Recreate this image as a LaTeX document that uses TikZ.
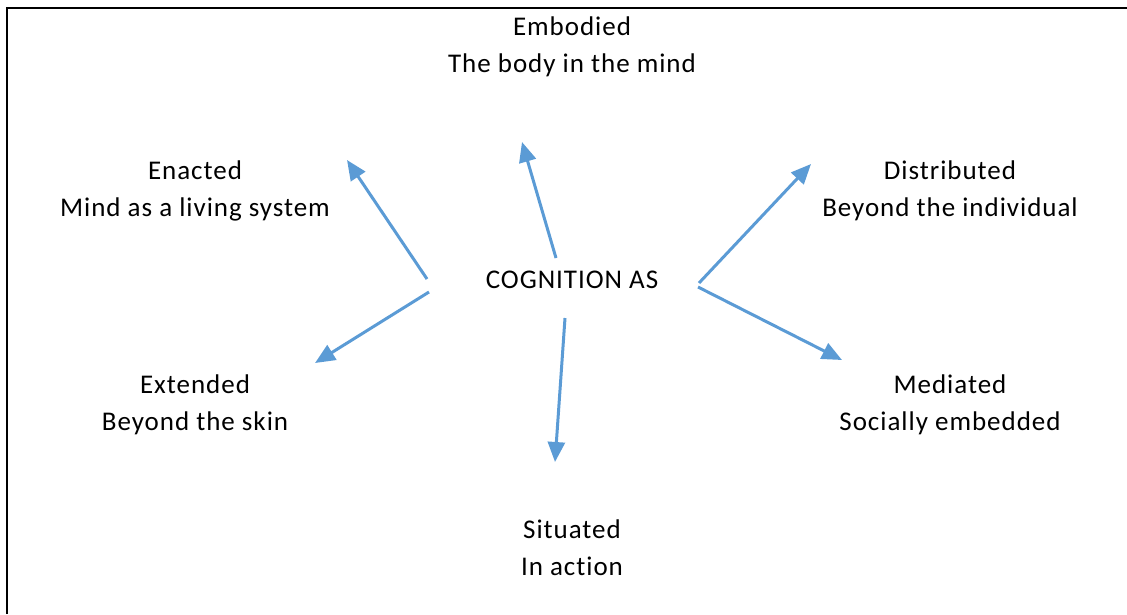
\documentclass[tikz,border=0pt]{standalone}
\usepackage{fontspec}
\setmainfont{Carlito}[LetterSpace=3.6,Ligatures=NoCommon]
\usetikzlibrary{arrows.meta}
\definecolor{arrowblue}{HTML}{5B9BD5}
\begin{document}
\begin{tikzpicture}[x=1pt,y=-1pt,
  label/.style={align=center,font=\fontsize{27}{37}\selectfont,inner sep=0pt},
  link/.style={draw=arrowblue,line width=3pt,-{Triangle[length=20pt,width=17pt]}}]
  \useasboundingbox (0,0) rectangle (1127,614);
  % frame: left and top edges only
  \draw[line width=2.6pt] (7,614) -- (7,8) -- (1127,8);

  % labels
  \node[label] (core) at (572,279.5) {COGNITION AS};
  \node[label] (embodied) at (572,47) {Embodied\\The body in the mind};
  \node[label] (enacted) at (195,191) {Enacted\\Mind as a living system};
  \node[label] (distributed) at (950,191) {Distributed\\Beyond the individual};
  \node[label] (extended) at (195,405) {Extended\\Beyond the skin};
  \node[label] (mediated) at (950,405) {Mediated\\Socially embedded};
  \node[label] (situated) at (572,548) {Situated\\In action};

  % arrow ends
  \coordinate (s-ena) at (427,279);  \coordinate (t-ena) at (347,160);
  \coordinate (s-ext) at (429,292);  \coordinate (t-ext) at (315,363);
  \coordinate (s-emb) at (556,258);  \coordinate (t-emb) at (522,142);
  \coordinate (s-dis) at (699,283);  \coordinate (t-dis) at (811,164);
  \coordinate (s-med) at (698,287);  \coordinate (t-med) at (842,360);
  \coordinate (s-sit) at (565,318);  \coordinate (t-sit) at (555,462);

  \draw[link] (s-ena) -- (t-ena);
  \draw[link] (s-ext) -- (t-ext);
  \draw[link] (s-emb) -- (t-emb);
  \draw[link] (s-dis) -- (t-dis);
  \draw[link] (s-med) -- (t-med);
  \draw[link] (s-sit) -- (t-sit);
\end{tikzpicture}
\end{document}
